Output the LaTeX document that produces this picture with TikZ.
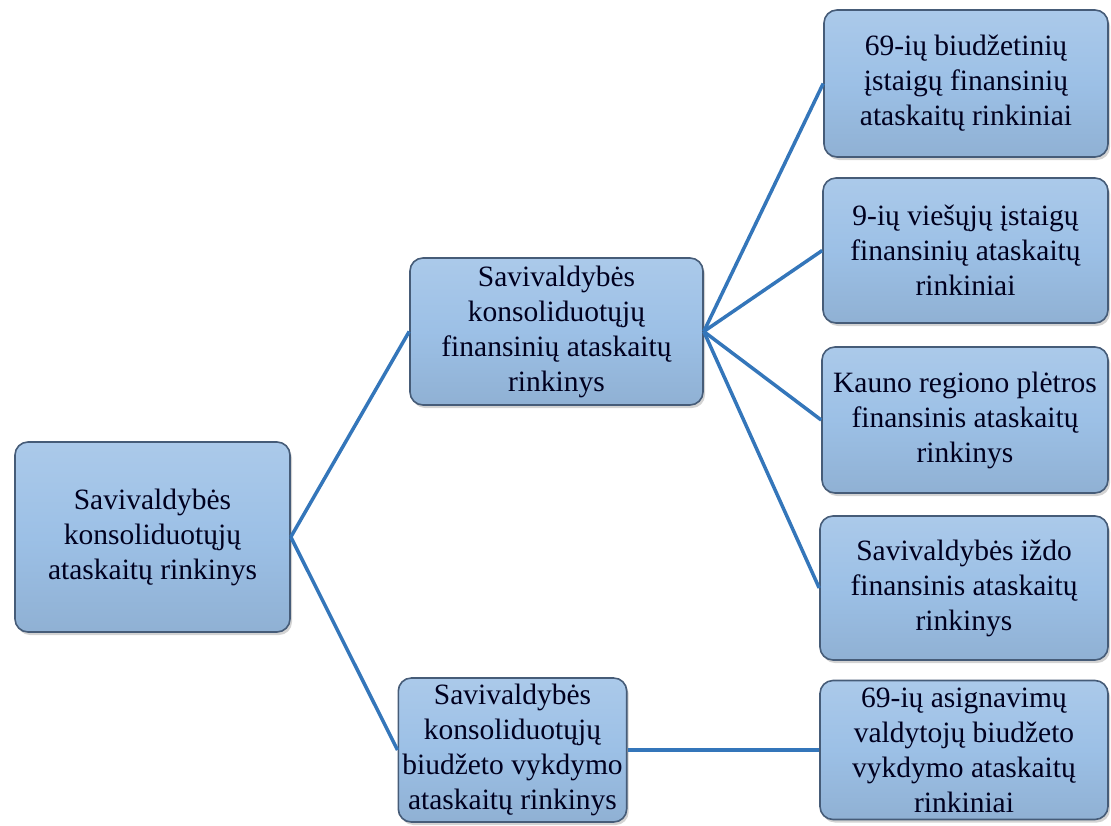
\documentclass[tikz,border=0pt]{standalone}
\usepackage{fontspec}
\setmainfont{Liberation Serif}
\usetikzlibrary{shadows}
\definecolor{boxfill}{RGB}{156,192,230}
\definecolor{boxedge}{RGB}{70,92,120}
\definecolor{linkblue}{RGB}{52,118,186}
\tikzset{
  card/.style={draw=boxedge, line width=1.6pt, rounded corners=13pt,
    top color=boxfill!85!white, bottom color=boxfill!92!black, middle color=boxfill,
    drop shadow={shadow xshift=2pt, shadow yshift=-3pt, opacity=0.35},
    align=center, inner sep=4pt,
    font=\fontsize{29.5}{35}\selectfont, text=black!88!blue},
  link/.style={draw=linkblue, line width=3.5pt}
}
\begin{document}
\begin{tikzpicture}[x=1pt, y=-1pt]
\useasboundingbox (0,0) rectangle (1111,825);
\node[card, minimum width=275pt, minimum height=190pt] (root) at (152.5,537)
  {Savivaldybės\\konsoliduotųjų\\ataskaitų rinkinys};
\node[card, minimum width=293pt, minimum height=147pt] (mid1) at (556.5,331.5)
  {Savivaldybės\\konsoliduotųjų\\finansinių ataskaitų\\rinkinys};
\node[card, minimum width=215pt, minimum height=144pt] (mid2) at (512.5,750)
  {Savivaldybės\\konsoliduotųjų\\biudžeto vykdymo\\ataskaitų rinkinys};
\node[card, minimum width=284pt, minimum height=147pt] (r1) at (966,83.5)
  {69-ių biudžetinių\\įstaigų finansinių\\ataskaitų rinkiniai};
\node[card, minimum width=285pt, minimum height=145pt] (r2) at (965.5,250.5)
  {9-ių viešųjų įstaigų\\finansinių ataskaitų\\rinkiniai};
\node[card, minimum width=286pt, minimum height=146pt] (r3) at (965,420)
  {Kauno regiono plėtros\\finansinis ataskaitų\\rinkinys};
\node[card, minimum width=288pt, minimum height=144pt] (r4) at (964,588)
  {Savivaldybės iždo\\finansinis ataskaitų\\rinkinys};
\node[card, minimum width=288pt, minimum height=139pt] (r5) at (964,750)
  {69-ių asignavimų\\valdytojų biudžeto\\vykdymo ataskaitų\\rinkiniai};
\draw[link] (root.east) -- (mid1.west);
\draw[link] (root.east) -- (mid2.west);
\draw[link] (mid1.east) -- (r1.west);
\draw[link] (mid1.east) -- (r2.west);
\draw[link] (mid1.east) -- (r3.west);
\draw[link] (mid1.east) -- (r4.west);
\draw[link] (mid2.east) -- (r5.west);
\end{tikzpicture}
\end{document}
